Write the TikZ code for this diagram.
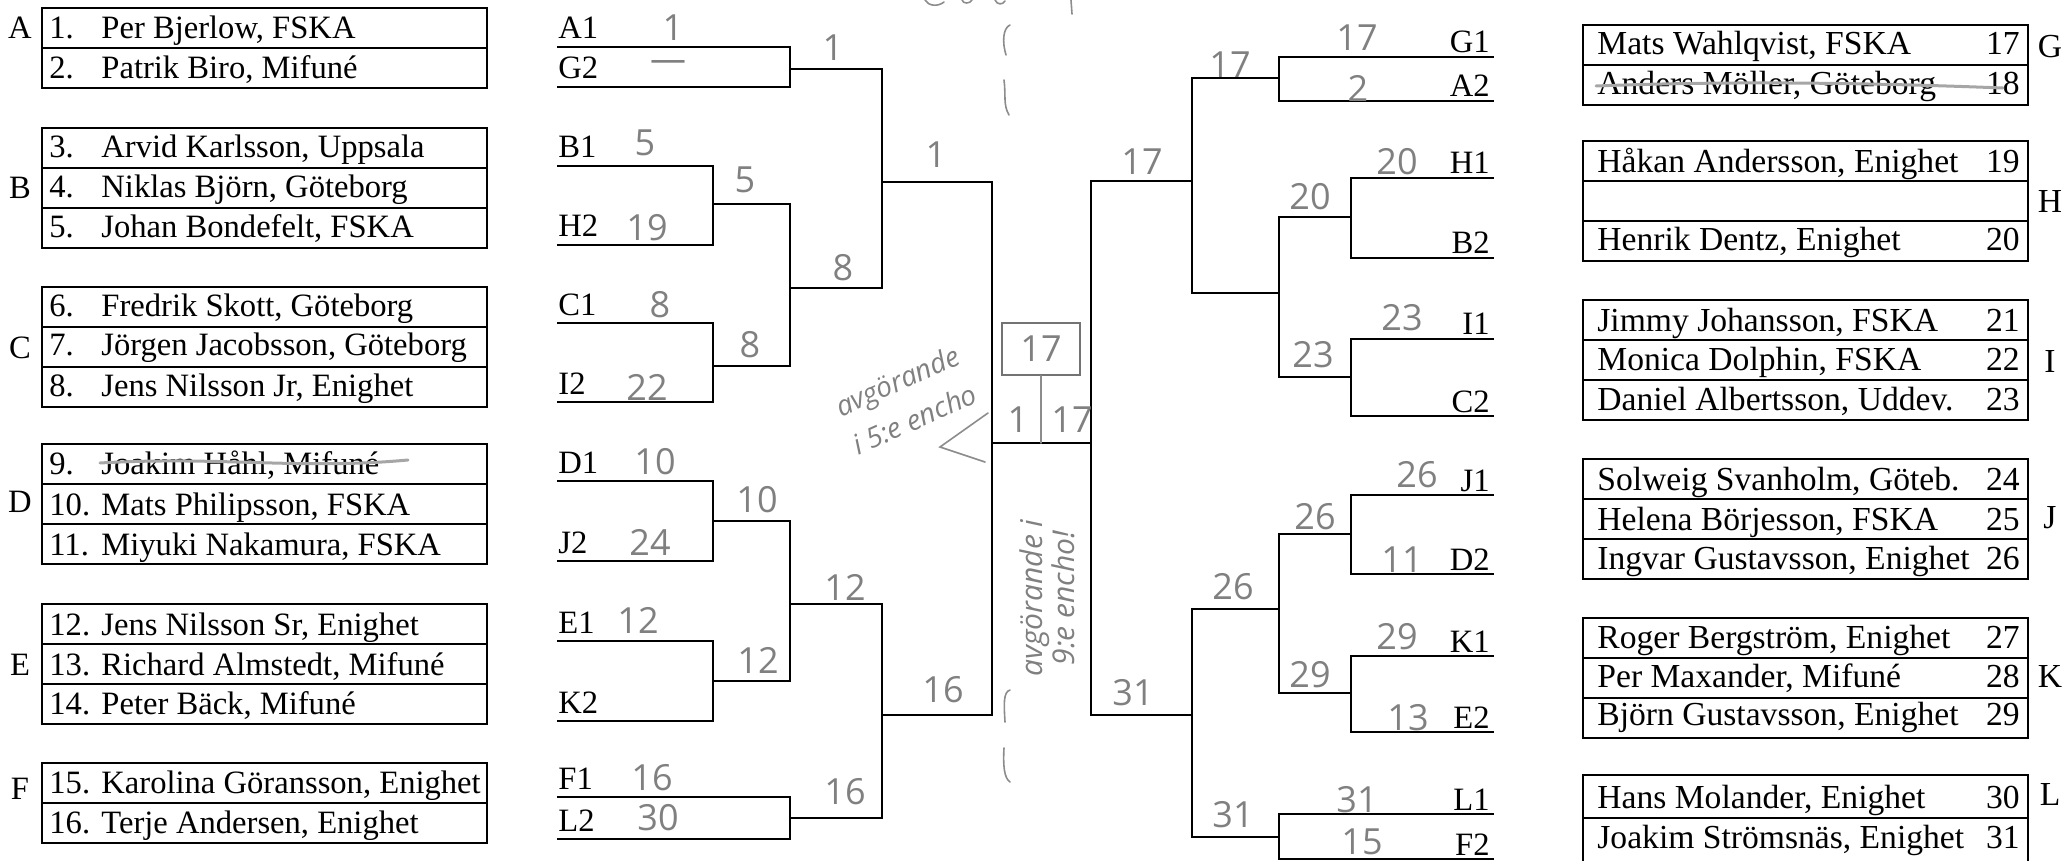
\documentclass[tikz,border=0pt]{standalone}
\usepackage{fontspec}
\setmainfont{Liberation Serif}
\newfontfamily\handfont{Open Sans}
\usetikzlibrary{calc}
\tikzset{
  brk/.style={line width=1.2pt, line cap=rect},
  boxline/.style={line width=0.9pt},
  entry/.style={font=\fontsize{16.3}{18}\selectfont, inner sep=0pt},
  player/.style={font=\fontsize{16.3}{18}\selectfont, inner sep=0pt},
  rplayer/.style={font=\fontsize{16.8}{18}\selectfont, inner sep=0pt},
  hand/.style={font=\handfont\fontsize{18}{20}\selectfont, text=black!50, inner sep=0pt},
  note/.style={font=\handfont\itshape\fontsize{14}{21}\selectfont, text=black!50, inner sep=0pt, align=center},
  handbox/.style={draw=black!55, line width=0.8pt, minimum width=39pt, minimum height=26pt,
    font=\handfont\fontsize{18}{20}\selectfont, text=black!50},
  pencil/.style={black!45, line width=0.8pt, line cap=round},
  strike/.style={black!35, line width=1.5pt, line cap=round},
}
% pool box: x-left, x-right, top, number of rows (row height 40)
\newcommand{\grpbox}[4]{%
  \draw[boxline] (#1,#3) rectangle (#2,#3+40*#4);
  \pgfmathtruncatemacro\grplast{#4-1}%
  \foreach \k in {1,...,\grplast}{\draw[boxline] (#1,#3+40*\k) -- (#2,#3+40*\k);}}

\begin{document}
\begin{tikzpicture}[x=0.5pt,y=-0.5pt]
  \useasboundingbox (0,0) rectangle (2067,861);
  \clip (0,0) rectangle (2067,861);
  % --- pool boxes, left (A--F) ---
  \foreach \g/\ty/\rows/\bl in {A/8/2/39, B/128/3/199, C/287/3/358, D/444/3/512, E/604/3/675, F/763/2/799}{%
    \grpbox{42}{487}{\ty}{\rows}
    \node[player,anchor=base] (g\g) at (20,\bl) {\g};}
  % --- players, left ---
  \foreach \nr/\nm/\yy in {1/{Per Bjerlow, FSKA}/39, 2/{Patrik Biro, Mifuné}/79,
        3/{Arvid Karlsson, Uppsala}/158, 4/{Niklas Björn, Göteborg}/198, 5/{Johan Bondefelt, FSKA}/238,
        6/{Fredrik Skott, Göteborg}/316, 7/{Jörgen Jacobsson, Göteborg}/356, 8/{Jens Nilsson Jr, Enighet}/396,
        9/{Joakim Håhl, Mifuné}/474, 10/{Mats Philipsson, FSKA}/515, 11/{Miyuki Nakamura, FSKA}/555,
        12/{Jens Nilsson Sr, Enighet}/635, 13/{Richard Almstedt, Mifuné}/675, 14/{Peter Bäck, Mifuné}/714,
        15/{Karolina Göransson, Enighet}/793, 16/{Terje Andersen, Enighet}/833}{%
    \node[player,anchor=base west] (n\nr) at (49,\yy) {\nr.};
    \node[player,anchor=base west] (p\nr) at (101,\yy) {\nm};}
  % --- pool boxes, right (G--L) ---
  \foreach \g/\ty/\rows/\bl in {G/25/2/58, H/141/3/213, I/300/3/372, J/459/3/528, K/618/3/687}{%
    \grpbox{1583}{2028}{\ty}{\rows}
    \node[rplayer,anchor=base] (g\g) at (2050,\bl) {\g};}
  \draw[boxline] (1583,880) -- (1583,775) -- (2028,775) -- (2028,880);
  \draw[boxline] (1583,818) -- (2028,818);
  \node[rplayer,anchor=base] (gL) at (2050,805) {L};
  % --- players, right ---
  \foreach \nr/\nm/\yy in {17/{Mats Wahlqvist, FSKA}/55, 18/{Anders Möller, Göteborg}/95,
        19/{Håkan Andersson, Enighet}/173, 20/{Henrik Dentz, Enighet}/251,
        21/{Jimmy Johansson, FSKA}/332, 22/{Monica Dolphin, FSKA}/371, 23/{Daniel Albertsson, Uddev.}/410,
        24/{Solweig Svanholm, Göteb.}/490, 25/{Helena Börjesson, FSKA}/530, 26/{Ingvar Gustavsson, Enighet}/569,
        27/{Roger Bergström, Enighet}/648, 28/{Per Maxander, Mifuné}/687, 29/{Björn Gustavsson, Enighet}/725,
        30/{Hans Molander, Enighet}/808, 31/{Joakim Strömsnäs, Enighet}/848}{%
    \node[rplayer,anchor=base west] (p\nr) at (1597,\yy) {\nm};
    \node[rplayer,anchor=base east] (n\nr) at (2020,\yy) {\nr};}
  % --- bracket entries, left ---
  \foreach \nm/\yy/\xe in {A1/47/790, G2/87/790, B1/166/713, H2/245/713, C1/323/713, I2/402/713,
        D1/481/713, J2/561/713, E1/641/713, K2/721/713, F1/797/790, L2/839/790}{%
    \node[entry,anchor=base west] (\nm) at (558,\yy-8) {\nm};
    \coordinate (\nm e) at (\xe,\yy);
    \draw[brk] (\nm.base west |- \nm e) -- (\nm e);}
  % --- bracket entries, right ---
  \foreach \nm/\yy/\xe in {G1/57/1279, A2/101/1279, H1/178/1351, B2/258/1351, I1/339/1351, C2/416/1351,
        J1/495/1351, D2/574/1351, K1/656/1351, E2/732/1351, L1/814/1279, F2/859/1279}{%
    \node[entry,anchor=base east] (\nm) at (1490,\yy-4) {\nm};
    \coordinate (\nm e) at (\xe,\yy);
    \draw[brk] (\nm e) -- (\nm e -| 1493,0);}
  % --- matches: upper / lower / winner / winner x / winner y ---
  \foreach \up/\lo/\wn/\wx/\wy in {A1e/G2e/qAG/882/69, B1e/H2e/rBH/790/204, C1e/I2e/rCI/790/366,
        D1e/J2e/rDJ/790/521, E1e/K2e/rEK/790/681, F1e/L2e/qFL/882/818,
        rBH/rCI/qBC/882/288, rDJ/rEK/qDE/882/604, qAG/qBC/sL1/992/182, qDE/qFL/sL2/992/715,
        G1e/A2e/qGA/1192/78, H1e/B2e/rHB/1279/217, I1e/C2e/rIC/1279/377,
        J1e/D2e/rJD/1279/534, K1e/E2e/rKE/1279/693, L1e/F2e/qLF/1192/837,
        rHB/rIC/qHI/1192/293, rJD/rKE/qJK/1192/609, qGA/qHI/sR1/1091/181, qJK/qLF/sR2/1091/715}{%
    \coordinate (\wn) at (\wx,\wy);
    \draw[brk] (\up) -- (\lo);
    \draw[brk] (\up |- \wn) -- (\wn);}
  % --- final ---
  \coordinate (fin) at (1041,443);
  \draw[brk] (sL1) -- (sL2);
  \draw[brk] (sR1) -- (sR2);
  \draw[brk] (sL1 |- fin) -- (sR1 |- fin);
  \node[handbox] (fbox) at (1041,349) {17};
  \draw[pencil] (fbox.south) -- (fbox.south |- fin);
  \node[hand] (fl) at (1018,420) {1};
  \node[hand] (fr) at (1072,420) {17};
  % --- handwritten results ---
  \foreach \hx/\hy/\hl [count=\i] in {673/28/1, 668/66/—, 833/48/1, 645/143/5, 647/228/19, 745/180/5,
        660/305/8, 647/387/22, 750/345/8, 843/268/8, 936/155/1, 655/462/10, 650/542/24, 757/500/10,
        638/620/12, 758/660/12, 845/587/12, 652/778/16, 658/818/30, 845/792/16, 943/690/16,
        1357/38/17, 1358/88/2, 1230/65/17, 1142/162/17, 1397/162/20, 1310/197/20, 1402/318/23,
        1313/355/23, 1417/475/26, 1402/560/11, 1315/517/26, 1233/587/26, 1397/637/29, 1310/675/29,
        1408/718/13, 1133/693/31, 1233/815/31, 1357/800/31, 1362/842/15}{%
    \node[hand] (hw\i) at (\hx,\hy) {\hl};}
  % --- notes and pencil marks ---
  \node[note,rotate=24] (noteL) at (906,400) {avgörande\\i 5:e encho};
  \node[note,rotate=90,font=\handfont\itshape\fontsize{15}{16}\selectfont] (noteR) at (1047,598) {avgörande i\\9:e encho!};
  \draw[pencil] (988,413) -- (940,447) -- (985,462);
  \draw[pencil] (1010,25) .. controls (1003,28) and (1002,42) .. (1006,55);
  \draw[pencil] (1004,80) .. controls (1006,95) and (1003,105) .. (1009,115);
  \draw[pencil] (1010,690) .. controls (1003,692) and (1004,705) .. (1005,722);
  \draw[pencil] (1004,748) .. controls (1003,765) and (1004,778) .. (1010,782);
  % cut-off pencil writing at the top edge
  \draw[pencil] (925,0) .. controls (928,6) and (938,7) .. (944,2);
  \draw[pencil] (962,0) .. controls (963,4) and (970,4) .. (972,0);
  \draw[pencil] (995,0) .. controls (997,5) and (1003,5) .. (1005,1);
  \draw[pencil] (1071,0) -- (1072,14);
  \draw[strike] (100,463) .. controls (220,456) and (300,470) .. (408,460);
  \draw[strike] (1596,86) .. controls (1750,80) and (1900,84) .. (2003,88);
\end{tikzpicture}
\end{document}
